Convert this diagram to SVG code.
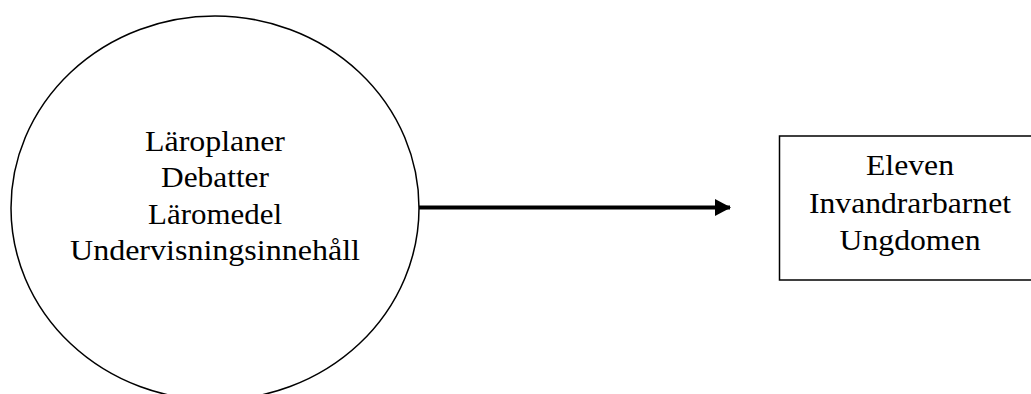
<svg xmlns="http://www.w3.org/2000/svg" width="1031" height="394" viewBox="0 0 1031 394">
<style>
.shape{fill:#fff;stroke:#000;stroke-width:1.5}
.lbl{font-family:"Liberation Serif","Times New Roman",serif;font-size:29px;fill:#000;text-anchor:middle}
.conn{stroke:#000;stroke-width:4;fill:none}
</style>
<defs>
<marker id="arr" markerWidth="16" markerHeight="17" refX="15" refY="8.5" orient="auto" markerUnits="userSpaceOnUse">
<path d="M0,0 L16,8.5 L0,17 Z" fill="#000"/>
</marker>
</defs>
<rect width="1031" height="394" fill="#fff"/>
<g id="node-sources">
<ellipse class="shape" cx="215" cy="208" rx="204" ry="192"/>
<text class="lbl" x="215" y="150.5" textLength="140" lengthAdjust="spacingAndGlyphs">Läroplaner</text>
<text class="lbl" x="215" y="187.3" textLength="108" lengthAdjust="spacingAndGlyphs">Debatter</text>
<text class="lbl" x="215" y="223.7" textLength="134" lengthAdjust="spacingAndGlyphs">Läromedel</text>
<text class="lbl" x="215" y="260.3" textLength="290" lengthAdjust="spacingAndGlyphs">Undervisningsinnehåll</text>
</g>
<g id="node-target">
<rect class="shape" x="779.5" y="136" width="260" height="144"/>
<text class="lbl" x="910" y="175" textLength="88" lengthAdjust="spacingAndGlyphs">Eleven</text>
<text class="lbl" x="910" y="212.5" textLength="202" lengthAdjust="spacingAndGlyphs">Invandrarbarnet</text>
<text class="lbl" x="910" y="249.5" textLength="141" lengthAdjust="spacingAndGlyphs">Ungdomen</text>
</g>
<g id="connectors">
<line class="conn" x1="419" y1="207.5" x2="730" y2="207.5" marker-end="url(#arr)"/>
</g>
</svg>
